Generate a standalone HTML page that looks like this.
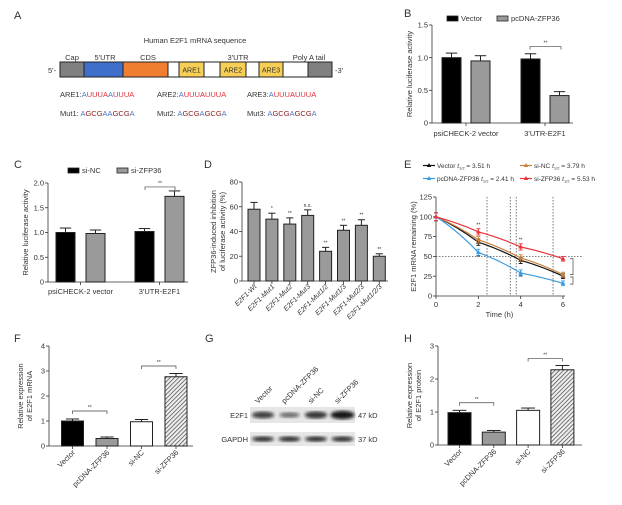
<!DOCTYPE html>
<html><head><meta charset="utf-8">
<style>
html,body{margin:0;padding:0;background:#fff;}
svg{display:block;font-family:"Liberation Sans",Arial,sans-serif;}
text{fill:#333;}
</style></head>
<body>
<svg id="fig" width="622" height="505" viewBox="0 0 622 505" xmlns="http://www.w3.org/2000/svg">
<defs>
<pattern id="hatch" width="3" height="3" patternUnits="userSpaceOnUse" patternTransform="rotate(45)">
<rect width="3" height="3" fill="#eee"/><line x1="0" y1="0" x2="0" y2="3" stroke="#444" stroke-width="1.4"/></pattern>
<filter id="blur"><feGaussianBlur stdDeviation="1.6"/></filter>
</defs>

<!-- Panel A -->
<g font-size="7.5">
<text x="14" y="19" font-size="11">A</text>
<text x="195" y="43" text-anchor="middle">Human E2F1 mRNA sequence</text>
<text x="72" y="60" text-anchor="middle">Cap</text>
<text x="105" y="60" text-anchor="middle">5'UTR</text>
<text x="148" y="60" text-anchor="middle">CDS</text>
<text x="238" y="60" text-anchor="middle">3'UTR</text>
<text x="309" y="60" text-anchor="middle">Poly A tail</text>
<text x="48" y="73">5'-</text>
<text x="335" y="73">-3'</text>
<g stroke="#222" stroke-width="1">
<rect x="60" y="62" width="272" height="15" fill="#fff"/>
<rect x="60" y="62" width="24" height="15" fill="#808080"/>
<rect x="84" y="62" width="39" height="15" fill="#3f6fc8"/>
<rect x="123" y="62" width="45" height="15" fill="#ef7e31"/>
<rect x="179" y="62" width="25" height="15" fill="#f7cf55"/>
<rect x="220" y="62" width="26" height="15" fill="#f7cf55"/>
<rect x="259" y="62" width="24" height="15" fill="#f7cf55"/>
<rect x="308" y="62" width="24" height="15" fill="#808080"/>
</g>
<text x="191.5" y="72.5" text-anchor="middle" font-size="7">ARE1</text>
<text x="233" y="72.5" text-anchor="middle" font-size="7">ARE2</text>
<text x="271" y="72.5" text-anchor="middle" font-size="7">ARE3</text>
<g font-size="7.5">
<text x="60" y="97">ARE1:<tspan fill="#4a78c8">A</tspan><tspan fill="#e0303a">UUUA</tspan><tspan fill="#4a78c8">A</tspan><tspan fill="#e0303a">UUUA</tspan></text>
<text x="157" y="97">ARE2:<tspan fill="#4a78c8">A</tspan><tspan fill="#e0303a">UUUA</tspan><tspan fill="#e0303a">UUUA</tspan></text>
<text x="247" y="97">ARE3:<tspan fill="#4a78c8">A</tspan><tspan fill="#e0303a">UUUA</tspan><tspan fill="#e0303a">UUUA</tspan></text>
<text x="60" y="116">Mut1: <tspan fill="#4a78c8">A</tspan><tspan fill="#8b1a1a">GCG</tspan><tspan fill="#4a78c8">AA</tspan><tspan fill="#8b1a1a">GCG</tspan><tspan fill="#4a78c8">A</tspan></text>
<text x="157" y="116">Mut2: <tspan fill="#4a78c8">A</tspan><tspan fill="#8b1a1a">GCG</tspan><tspan fill="#4a78c8">A</tspan><tspan fill="#8b1a1a">GCG</tspan><tspan fill="#4a78c8">A</tspan></text>
<text x="247" y="116">Mut3: <tspan fill="#4a78c8">A</tspan><tspan fill="#8b1a1a">GCG</tspan><tspan fill="#4a78c8">A</tspan><tspan fill="#8b1a1a">GCG</tspan><tspan fill="#4a78c8">A</tspan></text>
</g>
</g>

<!-- Panel letters -->
<text x="404" y="17" font-size="11">B</text>
<text x="14" y="168" font-size="11">C</text>
<text x="204" y="168" font-size="11">D</text>
<text x="404" y="168" font-size="11">E</text>
<text x="14" y="342" font-size="11">F</text>
<text x="205" y="342" font-size="11">G</text>
<text x="404" y="342" font-size="11">H</text>

<!-- Panel G blot -->
<g font-size="7.5">
<rect x="250" y="407" width="105" height="16" fill="#e6e6e6"/>
<rect x="250" y="432" width="105" height="14" fill="#e6e6e6"/>
<text x="248" y="418" text-anchor="end">E2F1</text>
<text x="248" y="442" text-anchor="end">GAPDH</text>
<text x="358" y="418">47 kD</text>
<text x="358" y="442">37 kD</text>
<g id="blotBands"></g>
</g>

<g id="charts"></g>
</svg>

<script>
// ---------- data ----------
const bGroups = ["psiCHECK-2 vector", "3'UTR-E2F1"];
const bSeries = ["Vector", "pcDNA-ZFP36"];
const bValues = [[1.0, 0.95], [0.98, 0.42]];
const bErrors = [[0.07, 0.08], [0.08, 0.06]];
const bTicks = ["0", "0.5", "1.0", "1.5"];

const cGroups = ["psiCHECK-2 vector", "3'UTR-E2F1"];
const cSeries = ["si-NC", "si-ZFP36"];
const cValues = [[1.0, 0.98], [1.02, 1.73]];
const cErrors = [[0.09, 0.07], [0.06, 0.11]];
const cTicks = ["0", "0.5", "1.0", "1.5", "2.0"];

const dCategories = ["E2F1-Wt", "E2F1-Mut1", "E2F1-Mut2", "E2F1-Mut3", "E2F1-Mut1/2", "E2F1-Mut1/3", "E2F1-Mut2/3", "E2F1-Mut1/2/3"];
const dValues = [58, 50, 46, 53, 24, 41, 45, 20];
const dErrors = [5.5, 4.8, 5, 4.5, 3.2, 4, 4.5, 2];
const dSig = ["", "*", "**", "n.s.", "**", "**", "**", "**"];
const dTicks = ["0", "20", "40", "60", "80"];

const eTimes = [0, 2, 4, 6];
const eVector = [100, 68, 45, 25];
const ePcdna = [100, 55, 29, 16];
const eSiNC = [100, 71, 48, 27];
const eSiZFP = [100, 81, 62, 47];
const eErr = [5, 4, 4, 3];
const eHalfLives = [2.41, 3.51, 3.79, 5.53];
const eYTicks = [0, 25, 50, 75, 100, 125];
const eXTicks = [0, 2, 4, 6];

const fCategories = ["Vector", "pcDNA-ZFP36", "si-NC", "si-ZFP36"];
const fValues = [1.0, 0.3, 0.97, 2.77];
const fErrors = [0.08, 0.06, 0.09, 0.13];
const fTicks = ["0", "1", "2", "3", "4"];

const hCategories = ["Vector", "pcDNA-ZFP36", "si-NC", "si-ZFP36"];
const hValues = [0.98, 0.39, 1.05, 2.28];
const hErrors = [0.07, 0.05, 0.07, 0.13];
const hTicks = ["0", "1", "2", "3"];

const gLanes = ["Vector", "pcDNA-ZFP36", "si-NC", "si-ZFP36"];
const gE2F1 = [0.7, 0.35, 0.75, 1.0];
const gGAPDH = [0.85, 0.85, 0.85, 0.85];

// ---------- helpers ----------
const NS = "http://www.w3.org/2000/svg";
const root = document.getElementById("charts");
function el(tag, attrs, parent, txt) {
  const e = document.createElementNS(NS, tag);
  for (const k in attrs) e.setAttribute(k, attrs[k]);
  if (txt !== undefined) e.textContent = txt;
  (parent || root).appendChild(e);
  return e;
}
function lin(d0, d1, r0, r1) { return v => r0 + (v - d0) * (r1 - r0) / (d1 - d0); }

function yAxis(g, x, y, ticks, tmax, yTop, yBot, label, label2) {
  const ax = el("line", {x1: x, y1: yTop, x2: x, y2: yBot, stroke: "#333", "stroke-width": 0.8}, g);
  
  
  ticks.forEach(t => {
    const yy = y(parseFloat(t));
    el("line", {x1: x - 3, y1: yy, x2: x, y2: yy, stroke: "#333", "stroke-width": 0.8}, g);
    const tl = el("text", {x: x - 4, y: yy + 2.6, "text-anchor": "end", "font-size": 7.5}, g, t);
    
    
  });
  const cy = (yTop + yBot) / 2;
  if (label2) {
    const l1 = el("text", {x: x - 26, y: cy, transform: `rotate(-90 ${x - 26} ${cy})`, "text-anchor": "middle", "font-size": 7.5}, g, label);
    
    
    const l2 = el("text", {x: x - 17, y: cy, transform: `rotate(-90 ${x - 17} ${cy})`, "text-anchor": "middle", "font-size": 7.5}, g, label2);
    
    
  } else {
    const l1 = el("text", {x: x - 20, y: cy, transform: `rotate(-90 ${x - 20} ${cy})`, "text-anchor": "middle", "font-size": 7.5}, g, label);
    
    
  }
}
function bar(g, cx, w, v, err, y, fill, name) {
  const y0 = y(0), yv = y(v), ye = y(v + err);
  el("line", {x1: cx, y1: yv, x2: cx, y2: ye, stroke: "#222", "stroke-width": 1}, g);
  el("line", {x1: cx - w * 0.3, y1: ye, x2: cx + w * 0.3, y2: ye, stroke: "#222", "stroke-width": 1}, g);
  const r = el("rect", {x: cx - w / 2, y: yv, width: w, height: y0 - yv, fill: fill, stroke: "#222", "stroke-width": 1}, g);
  
  
}
function bracket(g, x1, x2, yy, label) {
  el("path", {d: `M${x1},${yy + 3} V${yy} H${x2} V${yy + 3}`, fill: "none", stroke: "#444", "stroke-width": 0.7}, g);
  const t = el("text", {x: (x1 + x2) / 2, y: yy - 2, "text-anchor": "middle", "font-size": 5}, g, label);
  
  
}

// ---------- Panel B ----------
(function () {
  const g = el("g", {});
  
  
  const y = lin(0, 1.5, 123, 25);
  yAxis(g, 432, y, bTicks, 1.5, 25, 123, "Relative luciferase activity");
  el("line", {x1: 432, y1: 123, x2: 573, y2: 123, stroke: "#333", "stroke-width": 0.8}, g);
  const fills = ["#000", "#9a9a9a"];
  bGroups.forEach((grp, gi) => {
    const gc = 466 + gi * 79;
    el("line", {x1: gc, y1: 123, x2: gc, y2: 126, stroke: "#333", "stroke-width": 0.8}, g);
    const t = el("text", {x: gc, y: 136, "text-anchor": "middle", "font-size": 7.5}, g, grp);
    
    
    bSeries.forEach((s, si) => bar(g, gc + (si ? 14.5 : -14.5), 19, bValues[gi][si], bErrors[gi][si], y, fills[si], 'bar-' + s.toLowerCase()));
  });
  bracket(g, 530, 561, y(1.17), "**");
  bSeries.forEach((s, si) => {
    const lx = si ? 497 : 447;
    el("rect", {x: lx, y: 16, width: 11, height: 5, fill: fills[si], stroke: "#222", "stroke-width": 0.8}, g);
    const t = el("text", {x: lx + 14, y: 21, "font-size": 7.5}, g, s);
    
    
  });
})();

// ---------- Panel C ----------
(function () {
  const g = el("g", {});
  
  
  const y = lin(0, 2.0, 282, 183);
  yAxis(g, 48, y, cTicks, 2, 183, 282, "Relative luciferase activity");
  el("line", {x1: 48, y1: 282, x2: 188, y2: 282, stroke: "#333", "stroke-width": 0.8}, g);
  const fills = ["#000", "#9a9a9a"];
  cGroups.forEach((grp, gi) => {
    const gc = 80.5 + gi * 79;
    el("line", {x1: gc, y1: 282, x2: gc, y2: 285, stroke: "#333", "stroke-width": 0.8}, g);
    const t = el("text", {x: gc, y: 294, "text-anchor": "middle", "font-size": 7.5}, g, grp);
    
    
    cSeries.forEach((s, si) => bar(g, gc + (si ? 15 : -15), 19, cValues[gi][si], cErrors[gi][si], y, fills[si], 'bar-' + s.toLowerCase()));
  });
  bracket(g, 145, 175, y(1.92), "**");
  cSeries.forEach((s, si) => {
    const lx = si ? 117 : 68;
    el("rect", {x: lx, y: 168, width: 11, height: 5, fill: fills[si], stroke: "#222", "stroke-width": 0.8}, g);
    const t = el("text", {x: lx + 14, y: 173, "font-size": 7.5}, g, s);
    
    
  });
})();

// ---------- Panel D ----------
(function () {
  const g = el("g", {});
  
  
  const y = lin(0, 80, 281, 182);
  yAxis(g, 242, y, dTicks, 80, 182, 281, "ZFP36-induced inhibition", "of luciferase activity (%)");
  el("line", {x1: 242, y1: 281, x2: 388, y2: 281, stroke: "#333", "stroke-width": 0.8}, g);
  dCategories.forEach((c, i) => {
    const cx = 254 + i * 17.9;
    bar(g, cx, 12, dValues[i], dErrors[i], y, "#9a9a9a", 'bar-' + c.toLowerCase());
    el("line", {x1: cx, y1: 281, x2: cx, y2: 284, stroke: "#333", "stroke-width": 0.8}, g);
    const t = el("text", {x: cx + 3, y: 287, transform: `rotate(-45 ${cx + 3} 287)`, "text-anchor": "end", "font-size": 7, "font-style": "italic"}, g, c);
    
    
    if (dSig[i]) {
      const s = el("text", {x: cx, y: y(dValues[i] + dErrors[i]) - 3, "text-anchor": "middle", "font-size": 5}, g, dSig[i]);
      
      
    }
  });
})();

// ---------- Panel E ----------
(function () {
  const g = el("g", {});
  
  
  const x = lin(0, 6, 436, 563);
  const y = lin(0, 125, 296, 197);
  yAxis(g, 436, y, eYTicks.map(String), 125, 197, 296, "E2F1 mRNA remaining (%)");
  el("line", {x1: 436, y1: 296, x2: 565, y2: 296, stroke: "#333", "stroke-width": 0.8}, g);
  eXTicks.forEach(t => {
    el("line", {x1: x(t), y1: 296, x2: x(t), y2: 299, stroke: "#333", "stroke-width": 0.8}, g);
    const tl = el("text", {x: x(t), y: 307, "text-anchor": "middle", "font-size": 7.5}, g, String(t));
    
    
  });
  const xt = el("text", {x: x(3), y: 317, "text-anchor": "middle", "font-size": 7.5}, g, "Time (h)");
  
  
  eHalfLives.forEach(h => {
    const l = el("line", {x1: x(h), y1: 197, x2: x(h), y2: 296, stroke: "#555", "stroke-width": 0.8, "stroke-dasharray": "1.5,1.5"}, g);
    
    
  });
  const hl = el("line", {x1: 436, y1: y(50), x2: 583, y2: y(50), stroke: "#555", "stroke-width": 0.8, "stroke-dasharray": "1.5,1.5"}, g);
  
  
  const series = [
    {name: "vector", vals: eVector, c: "#111"},
    {name: "si-nc", vals: eSiNC, c: "#c8803c"},
    {name: "pcdna-zfp36", vals: ePcdna, c: "#3a9be0"},
    {name: "si-zfp36", vals: eSiZFP, c: "#e8343a"}];
  series.forEach(s => {
    let d = "";
    s.vals.forEach((v, i) => {
      const px = x(eTimes[i]), py = y(v);
      if (i === 0) d = `M${px},${py}`;
      else {
        const pxp = x(eTimes[i - 1]), pyp = y(s.vals[i - 1]);
        d += ` Q${(pxp + px) / 2},${(pyp + py) / 2 + (py - pyp) * -0.12} ${px},${py}`;
      }
    });
    const p = el("path", {d: d, fill: "none", stroke: s.c, "stroke-width": 1.2}, g);
    
    
    s.vals.forEach((v, i) => {
      const px = x(eTimes[i]), py = y(v);
      el("line", {x1: px, y1: y(v - eErr[i]), x2: px, y2: y(v + eErr[i]), stroke: s.c, "stroke-width": 0.9}, g);
      el("line", {x1: px - 2, y1: y(v + eErr[i]), x2: px + 2, y2: y(v + eErr[i]), stroke: s.c, "stroke-width": 0.9}, g);
      el("line", {x1: px - 2, y1: y(v - eErr[i]), x2: px + 2, y2: y(v - eErr[i]), stroke: s.c, "stroke-width": 0.9}, g);
      const m = el("path", {d: `M${px},${py - 2.6} L${px + 2.4},${py + 1.6} L${px - 2.4},${py + 1.6}Z`, fill: s.c}, g);
      
      
    });
  });
  [[2, 88], [2, 47], [4, 69], [4, 22]].forEach(a => {
    const t = el("text", {x: x(a[0]), y: y(a[1]), "text-anchor": "middle", "font-size": 5}, g, "**");
    
    
  });
  el("path", {d: `M${x(6) + 7},${y(47)} H${x(6) + 10} V${y(27)} H${x(6) + 7}`, fill: "none", stroke: "#444", "stroke-width": 0.7}, g);
  el("path", {d: `M${x(6) + 7},${y(24)} H${x(6) + 10} V${y(15)} H${x(6) + 7}`, fill: "none", stroke: "#444", "stroke-width": 0.7}, g);
  const legend = [
    {c: "#111", x: 423, y: 168, t: "Vector ", v: " = 3.51 h"},
    {c: "#c8803c", x: 520, y: 168, t: "si-NC ", v: " = 3.79 h"},
    {c: "#3a9be0", x: 423, y: 181, t: "pcDNA-ZFP36 ", v: " = 2.41 h"},
    {c: "#e8343a", x: 520, y: 181, t: "si-ZFP36 ", v: " = 5.53 h"}];
  legend.forEach(L => {
    el("line", {x1: L.x, y1: L.y - 2.5, x2: L.x + 12, y2: L.y - 2.5, stroke: L.c, "stroke-width": 1.2}, g);
    el("path", {d: `M${L.x + 6},${L.y - 5} L${L.x + 8.2},${L.y - 1} L${L.x + 3.8},${L.y - 1}Z`, fill: L.c}, g);
    const t = el("text", {x: L.x + 14, y: L.y, "font-size": 6.5}, g);
    
    
    t.appendChild(document.createTextNode(L.t));
    const it = el("tspan", {"font-style": "italic"}, t, "t");
    const sub = el("tspan", {"font-size": 4, dy: 1.5}, t, "1/2");
    const rest = el("tspan", {dy: -1.5}, t, L.v);
  });
})();

// ---------- Panels F & H ----------
function catBars(name, cats, vals, errs, ticks, tmax, ax, x0, step, w, yTop, yBot, xEnd, l1, l2, brackets) {
  const g = el("g", {});
  
  
  const y = lin(0, tmax, yBot, yTop);
  yAxis(g, ax, y, ticks, tmax, yTop, yBot, l1, l2);
  el("line", {x1: ax, y1: yBot, x2: xEnd, y2: yBot, stroke: "#333", "stroke-width": 0.8}, g);
  const fills = ["#000", "#9a9a9a", "#fff", "url(#hatch)"];
  cats.forEach((c, i) => {
    const cx = x0 + i * step;
    bar(g, cx, w, vals[i], errs[i], y, fills[i], 'bar-' + c.toLowerCase());
    el("line", {x1: cx, y1: yBot, x2: cx, y2: yBot + 3, stroke: "#333", "stroke-width": 0.8}, g);
    const t = el("text", {x: cx + 3, y: yBot + 7, transform: `rotate(-45 ${cx + 3} ${yBot + 7})`, "text-anchor": "end", "font-size": 7.5}, g, c);
    
    
  });
  brackets.forEach(b => bracket(g, x0 + b[0] * step, x0 + b[1] * step, y(b[2]), "**"));
}
catBars('panel-f-chart', fCategories, fValues, fErrors, fTicks, 4, 49, 72.5, 34.5, 22, 346, 446, 193,
  "Relative expression", "of E2F1 mRNA", [[0, 1, 1.4], [2, 3, 3.2]]);
catBars('panel-h-chart', hCategories, hValues, hErrors, hTicks, 3, 438, 459.5, 34.3, 23, 346, 445, 582,
  "Relative expression", "of E2F1 protein", [[0, 1, 1.28], [2, 3, 2.62]]);

// ---------- Panel G bands ----------
(function () {
  const g = document.getElementById("blotBands");
  gLanes.forEach((lane, i) => {
    const cx = 263 + i * 26.5;
    const a = gE2F1[i];
    const b1 = el("ellipse", {cx: cx, cy: 415, rx: 9 + a * 3, ry: 2 + a * 2.2, fill: "#111", opacity: 0.35 + a * 0.6, filter: "url(#blur)"}, g);
    
    
    const b2 = el("ellipse", {cx: cx, cy: 439, rx: 11, ry: 2.6, fill: "#111", opacity: gGAPDH[i], filter: "url(#blur)"}, g);
    
    
    const t = el("text", {x: cx - 5, y: 404, transform: `rotate(-45 ${cx - 5} 404)`, "font-size": 7.5}, g, lane);
    
    
  });
})();
</script>
</body></html>
